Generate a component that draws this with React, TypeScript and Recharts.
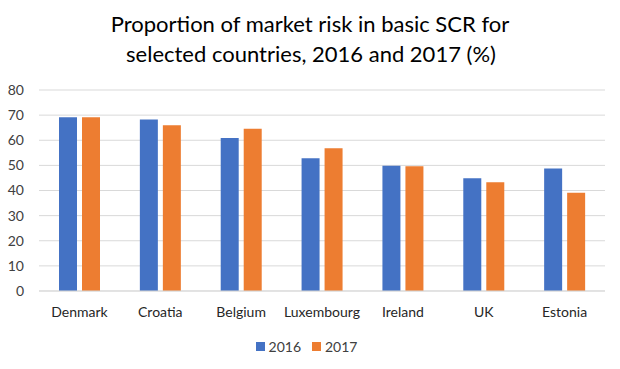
import React from "react";
import { BarChart, Bar, XAxis, YAxis, CartesianGrid, Legend } from "recharts";

const countries = ["Denmark", "Croatia", "Belgium", "Luxembourg", "Ireland", "UK", "Estonia"];
const values2016 = [69.2, 68.3, 60.9, 52.8, 49.9, 44.9, 48.8];
const values2017 = [69.2, 66.0, 64.6, 56.8, 49.7, 43.3, 39.1];
const yTicks = [0, 10, 20, 30, 40, 50, 60, 70, 80];
const seriesNames = ["2016", "2017"];
const colors = ["#4472C4", "#ED7D31"];
const titleLines = ["Proportion of market risk in basic SCR for", "selected countries, 2016 and 2017 (%)"];

const data = countries.map((c, i) => ({ name: c, v2016: values2016[i], v2017: values2017[i] }));

const FONT = "Lato, 'Open Sans', sans-serif";

const LegendContent = () => (
  <div style={{ display: "flex", justifyContent: "center", alignItems: "center", fontFamily: FONT, fontSize: 14, color: "#404040", height: 30, paddingLeft: 8 }}>
    {seriesNames.map((n, i) => (
      <div key={n} style={{ display: "flex", alignItems: "center", marginRight: i === 0 ? 11 : 0 }}>
        <span style={{ display: "inline-block", width: 9, height: 9, background: colors[i], marginRight: 4 }} />
        <span>{n}</span>
      </div>
    ))}
  </div>
);

export default function App() {
  return (
    <div style={{ position: "absolute", left: 0, top: 0, width: 620, height: 369, background: "#fff" }}>
      <BarChart
        width={620}
        height={369}
        data={data}
        margin={{ top: 90, right: 15, bottom: 0, left: 0 }}
        barSize={18}
        barGap={5}
      >
        <text x={310} y={32} textAnchor="middle" fontFamily={FONT} fontSize={22} fill="#000">
          {titleLines[0]}
        </text>
        <text x={311} y={62} textAnchor="middle" fontFamily={FONT} fontSize={22} fill="#000">
          {titleLines[1]}
        </text>
        <CartesianGrid vertical={false} stroke="#d9d9d9" />
        <XAxis
          dataKey="name"
          height={40}
          tickLine={false}
          axisLine={{ stroke: "#d9d9d9" }}
          tickMargin={10}
          tick={{ fontFamily: FONT, fontSize: 14, fill: "#262626" }}
          interval={0}
        />
        <YAxis
          width={39}
          domain={[0, 80]}
          ticks={yTicks}
          tickLine={false}
          axisLine={false}
          tickMargin={9}
          tick={{ fontFamily: FONT, fontSize: 14, fill: "#404040" }}
        />
        <Legend verticalAlign="bottom" height={38} content={<LegendContent />} />
        <Bar dataKey="v2016" name={seriesNames[0]} fill={colors[0]} isAnimationActive={false} />
        <Bar dataKey="v2017" name={seriesNames[1]} fill={colors[1]} isAnimationActive={false} />
      </BarChart>
    </div>
  );
}
